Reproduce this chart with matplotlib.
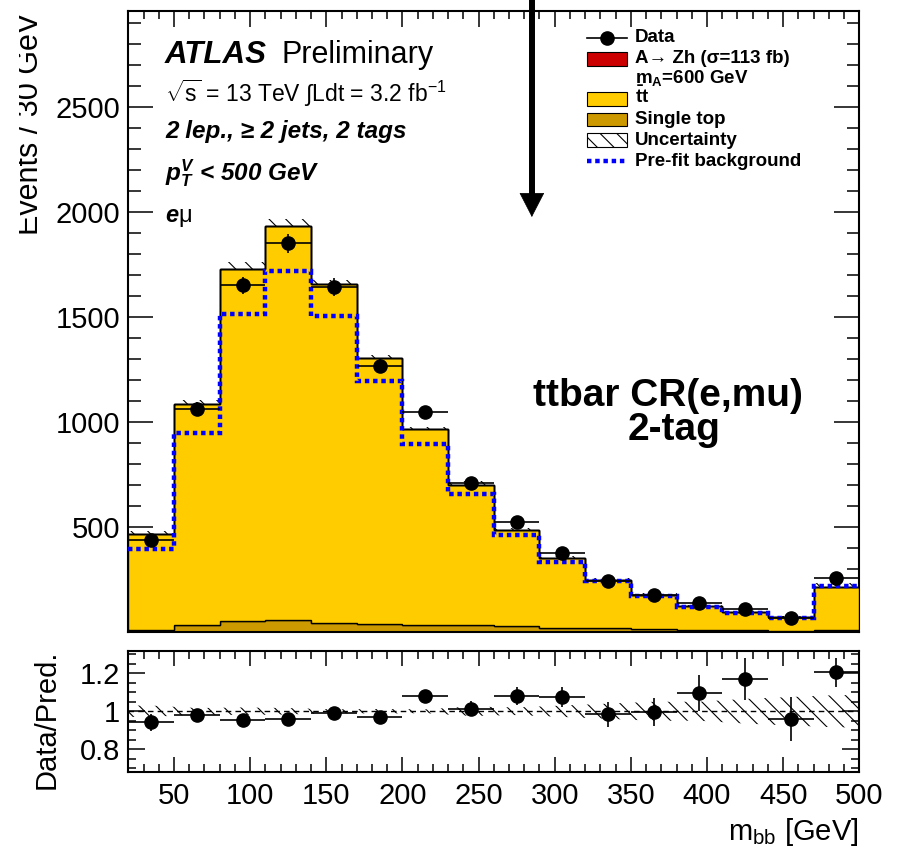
import numpy as np
import matplotlib
matplotlib.use("Agg")
import matplotlib.pyplot as plt
from matplotlib.patches import Rectangle
from matplotlib.lines import Line2D
from matplotlib.ticker import MultipleLocator, FixedLocator, FuncFormatter
from matplotlib.transforms import Bbox

plt.rcParams['font.family'] = ['Liberation Sans', 'DejaVu Sans']
plt.rcParams['mathtext.fontset'] = 'custom'
plt.rcParams['mathtext.rm'] = 'Liberation Sans'
plt.rcParams['mathtext.it'] = 'Liberation Sans:italic'
plt.rcParams['mathtext.bf'] = 'Liberation Sans:bold'
plt.rcParams['mathtext.bfit'] = 'Liberation Sans:italic:bold'
plt.rcParams['hatch.linewidth'] = 0.8

# m_bb binning, 30 GeV bins
edges = [20, 50, 80, 110, 140, 170, 200, 230, 260, 290, 320, 350, 380, 410, 440, 470, 500]
data = [440, 1064, 1651, 1850, 1643, 1267, 1046, 711, 524, 378, 243, 175, 136, 110, 68, 259]
data_err = [21, 33, 41, 43, 41, 36, 32, 27, 23, 19, 16, 13, 12, 10.5, 8.2, 16]
single_top = [11, 32, 51, 56, 45, 37, 35, 35, 27, 21, 17, 13, 11, 9, 7, 10]
ttbar = [456, 1055, 1676, 1876, 1613, 1267, 933, 666, 459, 331, 230, 163, 113, 85, 64, 205]
signal = [0, 0, 0, 0, 0, 0, 0, 0, 0, 0, 0, 0, 0, 0, 0, 0]
prefit = [397, 949, 1516, 1718, 1503, 1194, 895, 656, 460, 333, 243, 170, 119, 90, 68, 219]
unc_rel = [0.03, 0.017, 0.02, 0.017, 0.01, 0.012, 0.01, 0.025, 0.02, 0.03,
           0.04, 0.05, 0.05, 0.065, 0.075, 0.085]

edges = np.array(edges, float)
centers = 0.5 * (edges[1:] + edges[:-1])
half = 0.5 * np.diff(edges)
data = np.array(data, float)
data_err = np.array(data_err, float)
st = np.array(single_top, float)
tt = np.array(ttbar, float)
sig = np.array(signal, float)
total = st + tt + sig
unc = total * np.array(unc_rel)

W, H = 902, 848
def fx(x):
    return x / W
def fy(y):
    return 1 - y / H

fig = plt.figure(figsize=(W / 100, H / 100), dpi=100)
L, R = 128.3, 859.3
ax = fig.add_axes([fx(L), fy(632), (R - L) / W, (632 - 11) / H])
rax = fig.add_axes([fx(L), fy(772), (R - L) / W, (772 - 650.5) / H])

# --- main panel ---
ax.stairs(total + unc, edges, baseline=total - unc, fill=True, facecolor='none',
          edgecolor='black', hatch='\\\\', linewidth=0, zorder=1)
ax.stairs(st, edges, baseline=0, fill=True, facecolor='#CC9900', edgecolor='black',
          linewidth=1.0, zorder=2)
ax.stairs(st + tt, edges, baseline=st, fill=True, facecolor='#FFCC00', edgecolor='black',
          linewidth=1.0, zorder=3)
ax.stairs(total, edges, baseline=st + tt, fill=True, facecolor='#CC0000', edgecolor='black',
          linewidth=1.0, zorder=4)
ax.stairs(prefit, edges, baseline=None, color='#0000FF', linewidth=3.2,
          linestyle=(0, (1, 0.85)), zorder=5)
ax.errorbar(centers, data, xerr=half, yerr=data_err, fmt='o', color='black', ms=9.5,
            elinewidth=1.2, capsize=0, zorder=6)

ax.set_xlim(20, 500)
ax.set_ylim(0, 2957)
ax.xaxis.set_major_locator(MultipleLocator(50))
ax.xaxis.set_minor_locator(MultipleLocator(10))
ax.yaxis.set_major_locator(FixedLocator([500, 1000, 1500, 2000, 2500]))
ax.yaxis.set_minor_locator(MultipleLocator(100))
ax.tick_params(which='both', direction='in', top=True, right=True, width=1.1)
ax.tick_params(axis='x', which='major', length=11.5)
ax.tick_params(axis='x', which='minor', length=5.8)
ax.tick_params(axis='y', which='major', length=18)
ax.tick_params(axis='y', which='minor', length=9)
ax.tick_params(axis='x', labelbottom=False)
ax.tick_params(axis='y', labelsize=21, pad=5.8)

# mass window arrow
ax.plot([285, 285], [3020, 2085], color='black', lw=4.3, solid_capstyle='butt',
        clip_on=False, zorder=7)
ax.annotate('', xy=(285, 1976), xytext=(285, 2100),
            arrowprops=dict(arrowstyle='-|>,head_length=16.5,head_width=8.5',
                            mutation_scale=1, color='black', lw=0.5, shrinkA=0, shrinkB=0),
            annotation_clip=False, zorder=7)

# --- ratio panel ---
ratio = data / total
ratio_err = data_err / total
bx = np.concatenate([[edges[0]], centers, [edges[-1]]])
br = np.array(unc_rel)
br = np.concatenate([[br[0]], br, [br[-1]]])
rax.fill_between(bx, 1 - br, 1 + br, facecolor='none', edgecolor='black',
                 hatch='\\\\', linewidth=0, zorder=1)
rax.axhline(1, color='black', lw=1.0, ls=(0, (4, 3)), zorder=2)
rax.errorbar(centers, ratio, xerr=half, yerr=ratio_err, fmt='o', color='black', ms=9.5,
             elinewidth=1.2, capsize=0, zorder=3)
rax.set_xlim(20, 500)
rax.set_ylim(0.68, 1.32)
rax.xaxis.set_major_locator(MultipleLocator(50))
rax.xaxis.set_minor_locator(MultipleLocator(10))
rax.yaxis.set_major_locator(FixedLocator([0.8, 1.0, 1.2]))
rax.yaxis.set_minor_locator(MultipleLocator(0.05))
rax.yaxis.set_major_formatter(FuncFormatter(lambda v, p: '{:g}'.format(round(v, 2))))
rax.tick_params(which='both', direction='in', top=True, right=True, width=1.1)
rax.tick_params(axis='x', which='major', length=11, labelsize=21, pad=7)
rax.tick_params(axis='x', which='minor', length=5.8)
rax.tick_params(axis='y', which='major', length=12, labelsize=21, pad=5.8)
rax.tick_params(axis='y', which='minor', length=6)

for a in (ax, rax):
    for s in a.spines.values():
        s.set_linewidth(1.5)

# axis titles
yl = fig.text(fx(38), fy(13), 'Events / 30 GeV', fontsize=22, rotation=90,
              rotation_mode='anchor', ha='right', va='baseline')
yl.set_clip_on(True)
yl.set_clip_box(Bbox([[19, 0], [W, H]]))
fig.text(fx(55), fy(650), 'Data/Pred.', fontsize=21, rotation=90,
         rotation_mode='anchor', ha='right', va='baseline')
fig.text(fx(858), fy(840), r'm$_{\mathrm{bb}}$ [GeV]', fontsize=21, ha='right',
         va='baseline')

# labels
fig.text(fx(165), fy(63), 'ATLAS', fontsize=22.5, fontweight='bold', style='italic',
         va='baseline')
fig.text(fx(282), fy(63), 'Preliminary', fontsize=22, va='baseline')
fig.text(fx(165), fy(101.7), r'$\sqrt{\mathrm{s}}$ = 13 TeV $\int$Ldt = 3.2 fb$^{-1}$',
         fontsize=16.5, va='baseline')
fig.text(fx(165), fy(138), '2 lep., \u2265 2 jets, 2 tags', fontsize=17.5,
         fontweight='bold', style='italic', va='baseline')
fig.text(fx(165), fy(180), r'$\mathbfit{p}_{\mathbfit{T}}^{\mathbfit{V}}$ < 500 GeV',
         fontsize=17.5, fontweight='bold', style='italic', va='baseline')
fig.text(fx(165), fy(221.7), r'$\mathbfit{e}\mathrm{\mu}$', fontsize=17, va='baseline')

fig.text(fx(668), fy(406), 'ttbar CR(e,mu)', fontsize=28, fontweight='bold',
         ha='center', va='baseline')
fig.text(fx(674), fy(440), '2-tag', fontsize=28, fontweight='bold',
         ha='center', va='baseline')

# legend
lx0, lx1, tx = 587, 627, 635
fs = 13.5
fig.add_artist(Line2D([fx(lx0), fx(lx1)], [fy(37.7)] * 2, color='black', lw=1.2))
fig.add_artist(Line2D([fx(607)], [fy(37.7)], marker='o', ms=9.5, color='black'))
fig.text(fx(tx), fy(41.5), 'Data', fontsize=fs, fontweight='bold', va='baseline')

boxes = [(52, '#CC0000', None), (92, '#FFCC00', None), (112.7, '#CC9900', None),
         (133, 'white', '\\\\')]
for top, fc, hatch in boxes:
    fig.add_artist(Rectangle((fx(lx0), fy(top + 13.5)), (lx1 - lx0) / W, 13.5 / H,
                             facecolor=fc, edgecolor='black', lw=0.8, hatch=hatch,
                             transform=fig.transFigure))
fig.text(fx(tx), fy(63), 'A\u2192 Zh (\u03c3=113 fb)', fontsize=fs, fontweight='bold',
         va='baseline')
fig.text(fx(tx), fy(82.5), r'm$_{\mathbf{A}}$=600 GeV', fontsize=fs, fontweight='bold',
         va='baseline')
fig.text(fx(tx), fy(103), r'$\mathbf{\bar{t}t}$', fontsize=fs, va='baseline')
fig.text(fx(tx), fy(124), 'Single top', fontsize=fs, fontweight='bold', va='baseline')
fig.text(fx(tx), fy(145), 'Uncertainty', fontsize=fs, fontweight='bold', va='baseline')
fig.add_artist(Line2D([fx(lx0), fx(lx1)], [fy(161)] * 2, color='#0000FF', lw=3.2,
                      linestyle=(0, (1, 0.85))))
fig.text(fx(tx), fy(165.5), 'Pre-fit background', fontsize=fs, fontweight='bold',
         va='baseline')

fig.savefig('out.png', dpi=100)
